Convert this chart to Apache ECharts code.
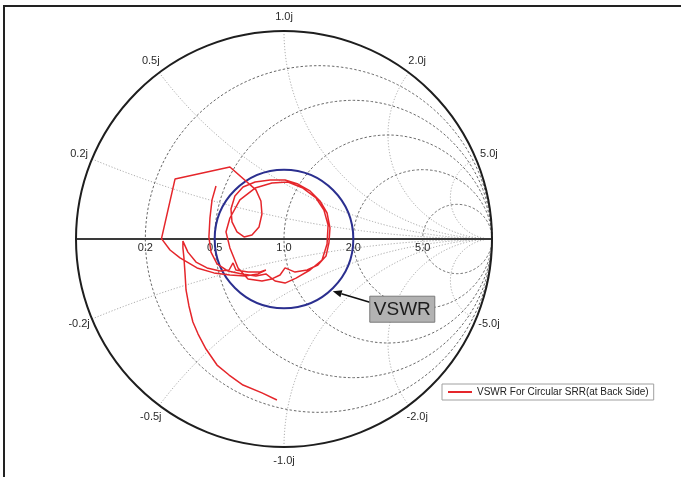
<!DOCTYPE html>
<html>
<head>
<meta charset="utf-8">
<script src="https://cdn.jsdelivr.net/npm/echarts@6/dist/echarts.min.js"></script>
<style>
  html, body { margin: 0; padding: 0; background: #ffffff; }
  #chart { width: 681px; height: 477px; }
</style>
</head>
<body>
<div id="chart"></div>
<script>
// Smith chart grid: normalised resistance circles and reactance arcs
const resistanceTicks = [0.2, 0.5, 1.0, 2.0, 5.0];
const resistanceLabels = ['0.2', '0.5', '1.0', '2.0', '5.0'];
const reactanceTicks = [0.2, 0.5, 1.0, 2.0, 5.0];
const reactanceLabels = ['0.2j', '0.5j', '1.0j', '2.0j', '5.0j'];

// VSWR reference circle and its callout
const vswrLevel = 2.0;
const vswrCalloutText = 'VSWR';
const vswrCalloutAngleDeg = -47;

// Measured reflection coefficient (real / imaginary part)
const seriesName = 'VSWR For Circular SRR(at Back Side)';
const gammaRe = [
  -0.327, -0.346, -0.356, -0.361, -0.351, -0.322, -0.269, -0.202, -0.135, -0.087,
  -0.043, 0.005, 0.058, 0.125, 0.183, 0.207, 0.212, 0.192, 0.154, 0.091,
  0.019, -0.058, -0.139, -0.212, -0.260, -0.279, -0.260, -0.221, -0.173, -0.106,
  -0.058, -0.019, 0.005, 0.053, 0.111, 0.163, 0.202, 0.216, 0.221, 0.207,
  0.173, 0.125, 0.067, 0.005, -0.067, -0.139, -0.197, -0.236, -0.255, -0.250,
  -0.226, -0.192, -0.154, -0.120, -0.106, -0.111, -0.135, -0.260, -0.524, -0.589,
  -0.548, -0.500, -0.418, -0.337, -0.260, -0.188, -0.125, -0.087, -0.115, -0.173,
  -0.231, -0.245, -0.264, -0.308, -0.370, -0.423, -0.462, -0.486, -0.486, -0.481,
  -0.476, -0.471, -0.457, -0.438, -0.413, -0.375, -0.322, -0.264, -0.197, -0.106,
  -0.034
];
const gammaIm = [
  0.255, 0.188, 0.101, 0.010, -0.063, -0.120, -0.154, -0.168, -0.178, -0.168,
  -0.202, -0.212, -0.188, -0.149, -0.101, -0.024, 0.067, 0.139, 0.197, 0.245,
  0.274, 0.269, 0.245, 0.188, 0.101, 0.034, -0.043, -0.139, -0.192, -0.202,
  -0.192, -0.173, -0.139, -0.159, -0.149, -0.125, -0.082, -0.019, 0.053, 0.125,
  0.183, 0.231, 0.264, 0.284, 0.284, 0.274, 0.250, 0.207, 0.144, 0.082,
  0.034, 0.010, 0.019, 0.058, 0.120, 0.183, 0.236, 0.346, 0.288, 0.002,
  -0.053, -0.091, -0.139, -0.163, -0.173, -0.178, -0.168, -0.149, -0.159, -0.159,
  -0.149, -0.115, -0.149, -0.154, -0.139, -0.111, -0.063, -0.010, -0.043, -0.091,
  -0.163, -0.245, -0.322, -0.399, -0.457, -0.529, -0.606, -0.654, -0.702, -0.740,
  -0.774
];

const traceData = gammaRe.map((re, i) => [re, gammaIm[i]]);

const FONT = '"Liberation Sans", Arial, Helvetica, sans-serif';

// impedance z = r + jx  ->  reflection coefficient
function gamma(r, x) {
  const d = (r + 1) * (r + 1) + x * x;
  return [(r * r + x * x - 1) / d, 2 * x / d];
}

function resistancePoints(api, r) {
  const c = r / (1 + r), rad = 1 / (1 + r);
  const pts = [];
  for (let i = 0; i <= 240; i++) {
    const a = i / 240 * Math.PI * 2;
    pts.push(api.coord([c + rad * Math.cos(a), rad * Math.sin(a)]));
  }
  return pts;
}

function reactancePoints(api, x) {
  const pts = [];
  for (let i = 0; i < 240; i++) {
    const r = Math.tan(i / 240 * Math.PI / 2);
    pts.push(api.coord(gamma(r, x)));
  }
  pts.push(api.coord([1, 0]));
  return pts;
}

function renderGrid(params, api) {
  const children = [];
  const c0 = api.coord([0, 0]);
  const edge = api.coord([1, 0]);
  const R = edge[0] - c0[0];

  // reactance arcs (light dotted)
  reactanceTicks.forEach(function (x) {
    [x, -x].forEach(function (xv) {
      children.push({
        type: 'polyline',
        shape: { points: reactancePoints(api, xv) },
        style: { fill: null, stroke: '#ababab', lineWidth: 1, lineDash: [1.2, 1.8] },
        z2: 1
      });
    });
  });
  // resistance circles (dashed)
  resistanceTicks.forEach(function (r) {
    children.push({
      type: 'polyline',
      shape: { points: resistancePoints(api, r) },
      style: { fill: null, stroke: '#686868', lineWidth: 1, lineDash: [2.5, 2] },
      z2: 2
    });
  });
  // real axis
  const left = api.coord([-1, 0]);
  children.push({
    type: 'line',
    shape: { x1: left[0], y1: left[1], x2: edge[0], y2: edge[1] },
    style: { stroke: '#3a3a3a', lineWidth: 2 },
    z2: 3
  });
  // unit circle (r = 0)
  children.push({
    type: 'circle',
    shape: { cx: c0[0], cy: c0[1], r: R },
    style: { fill: null, stroke: '#1e1e1e', lineWidth: 2 },
    z2: 4
  });
  // resistance labels under the axis
  resistanceTicks.forEach(function (r, i) {
    const p = api.coord(gamma(r, 0));
    children.push({
      type: 'text',
      x: p[0], y: p[1] + 9,
      style: {
        text: resistanceLabels[i], fill: '#2a2a2a', fontSize: 11, fontFamily: FONT,
        align: 'center', verticalAlign: 'middle'
      },
      z2: 5
    });
  });
  // reactance labels around the rim
  reactanceTicks.forEach(function (x, i) {
    [1, -1].forEach(function (s) {
      const p = api.coord(gamma(0, s * x));
      const dx = p[0] - c0[0], dy = p[1] - c0[1];
      const len = Math.sqrt(dx * dx + dy * dy);
      const k = (len + 14) / len;
      children.push({
        type: 'text',
        x: c0[0] + dx * k, y: c0[1] + dy * k,
        style: {
          text: (s < 0 ? '-' : '') + reactanceLabels[i], fill: '#2a2a2a', fontSize: 11,
          fontFamily: FONT, align: 'center', verticalAlign: 'middle'
        },
        z2: 5
      });
    });
  });
  return { type: 'group', children: children };
}

function renderVswr(params, api) {
  const g = (vswrLevel - 1) / (vswrLevel + 1);
  const c0 = api.coord([0, 0]);
  const e = api.coord([g, 0]);
  const rad = e[0] - c0[0];
  const a = vswrCalloutAngleDeg * Math.PI / 180;
  const tip = api.coord([g * Math.cos(a), g * Math.sin(a)]);
  const tx = tip[0] + 1.5, ty = tip[1] + 1.5;
  const bx = tx + 37, by = ty + 5, bw = 65, bh = 26;
  const sx = bx, sy = ty + 11;
  const ang = Math.atan2(ty - sy, tx - sx);
  const hl = 9, hw = 3.6;
  const baseX = tx - hl * Math.cos(ang), baseY = ty - hl * Math.sin(ang);
  const nx = -Math.sin(ang), ny = Math.cos(ang);
  return {
    type: 'group',
    children: [
      {
        type: 'circle',
        shape: { cx: c0[0], cy: c0[1], r: rad },
        style: { fill: null, stroke: '#2b2f8f', lineWidth: 2 }
      },
      {
        type: 'line',
        shape: { x1: sx, y1: sy, x2: baseX, y2: baseY },
        style: { stroke: '#111', lineWidth: 1.6 }
      },
      {
        type: 'polygon',
        shape: { points: [[tx, ty], [baseX + nx * hw, baseY + ny * hw], [baseX - nx * hw, baseY - ny * hw]] },
        style: { fill: '#111' }
      },
      {
        type: 'rect',
        shape: { x: bx, y: by, width: bw, height: bh },
        style: { fill: '#b2b2b2', stroke: '#7a7a7a', lineWidth: 1 }
      },
      {
        type: 'text',
        x: bx + bw / 2, y: by + bh / 2 + 1,
        style: {
          text: vswrCalloutText, fill: '#1c1c1c', fontSize: 19, fontFamily: FONT,
          align: 'center', verticalAlign: 'middle'
        }
      }
    ]
  };
}

const chart = echarts.init(document.getElementById('chart'), null, { renderer: 'canvas' });

chart.setOption({
  animation: false,
  backgroundColor: '#ffffff',
  grid: { left: 76, top: 31, width: 416, height: 416 },
  xAxis: { type: 'value', min: -1, max: 1, show: false },
  yAxis: { type: 'value', min: -1, max: 1, show: false },
  legend: {
    data: [seriesName],
    left: 442, top: 384,
    orient: 'horizontal',
    padding: [3, 5, 3, 6],
    itemWidth: 24, itemHeight: 2, itemGap: 4,
    icon: 'rect',
    borderColor: '#a0a0a0', borderWidth: 1,
    backgroundColor: '#ffffff',
    textStyle: { fontSize: 10, color: '#222', fontFamily: FONT, padding: [0, 0, 0, 0] },
    selectedMode: false
  },
  graphic: [
    { type: 'line', shape: { x1: 3, y1: 6, x2: 681, y2: 6 }, style: { stroke: '#222', lineWidth: 2 }, silent: true },
    { type: 'line', shape: { x1: 4, y1: 5, x2: 4, y2: 477 }, style: { stroke: '#222', lineWidth: 2 }, silent: true }
  ],
  series: [
    {
      type: 'custom',
      name: 'grid',
      silent: true,
      renderItem: renderGrid,
      data: [[0, 0]],
      z: 1
    },
    {
      type: 'custom',
      name: 'vswr',
      silent: true,
      renderItem: renderVswr,
      data: [[0, 0]],
      z: 2
    },
    {
      type: 'line',
      name: seriesName,
      data: traceData,
      symbol: 'none',
      showSymbol: false,
      smooth: false,
      lineStyle: { color: '#e5262b', width: 1.5 },
      itemStyle: { color: '#e5262b' },
      z: 3
    }
  ]
});
</script>
</body>
</html>
